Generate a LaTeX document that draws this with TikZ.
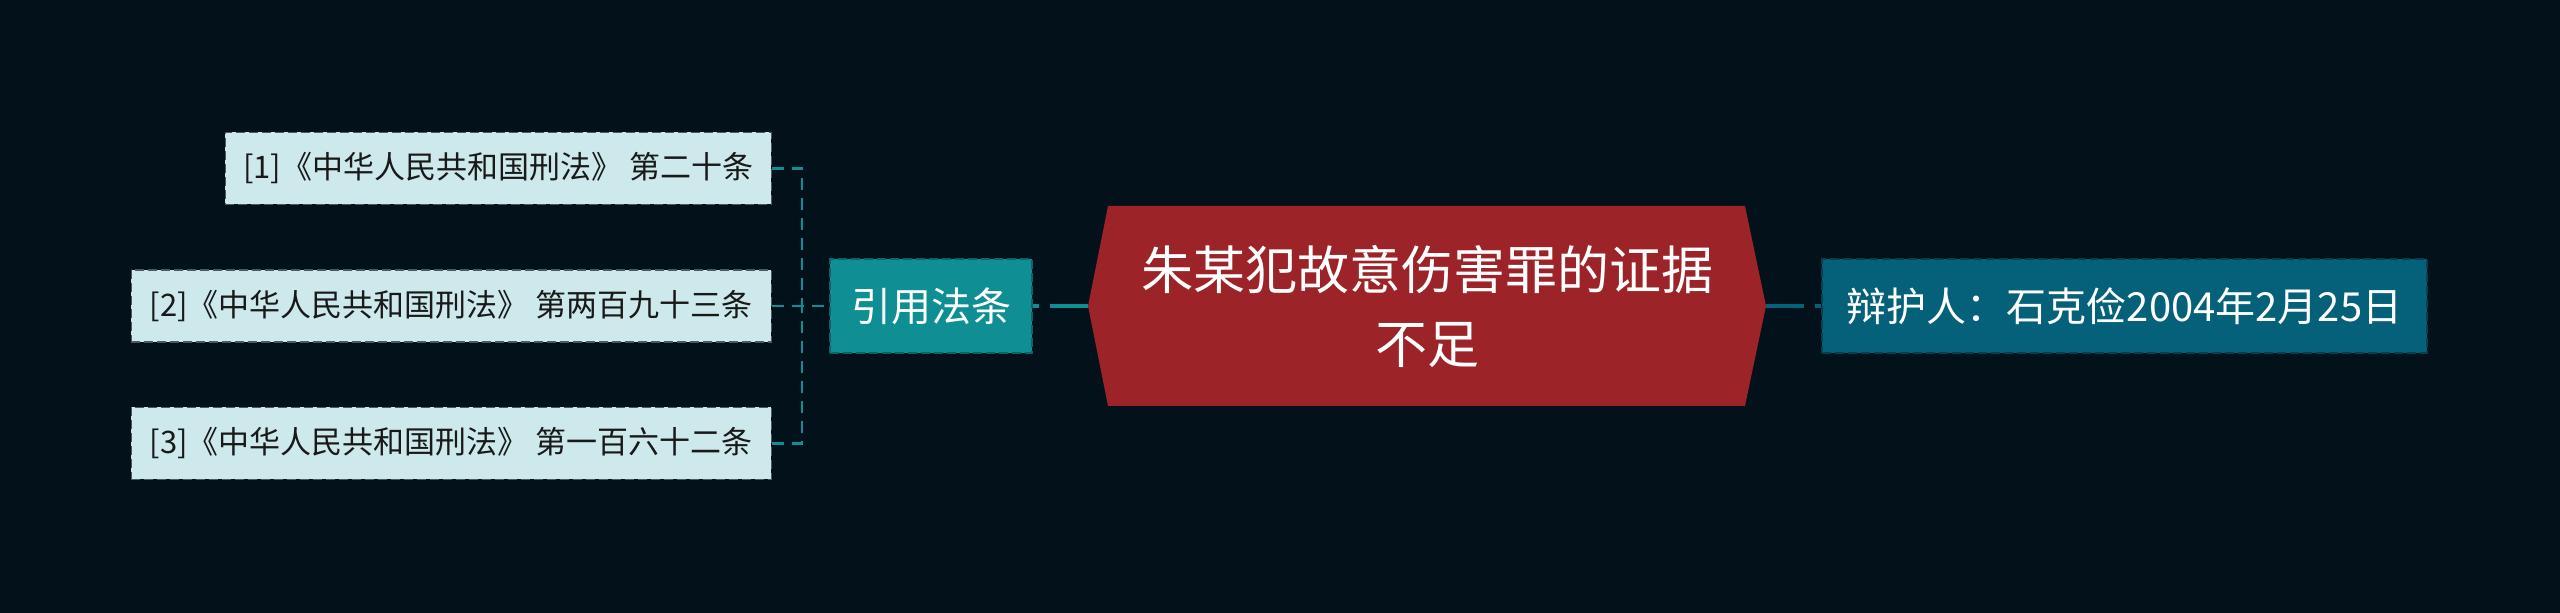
\documentclass[tikz,border=0pt]{standalone}
\usepackage{fontspec}
\setmainfont{Noto Sans CJK SC}

\definecolor{bgnavy}{HTML}{03111A}
\definecolor{leaffill}{HTML}{CDE9EB}
\definecolor{leafedge}{HTML}{4A5A5E}
\definecolor{tealfill}{HTML}{0F8F94}
\definecolor{tealedge}{HTML}{0A6468}
\definecolor{rootred}{HTML}{9C2328}
\definecolor{deepfill}{HTML}{05607A}
\definecolor{deepedge}{HTML}{06404F}

\tikzset{
  leaf/.style={fill=leaffill, draw=leafedge, line width=1.5pt, dash pattern=on 9pt off 4pt,
    text=black!90, font=\fontsize{31}{37}\selectfont, inner xsep=0pt,
    minimum height=72pt, anchor=east},
  branch/.style={draw=#1edge, fill=#1fill, line width=1.5pt, dash pattern=on 9pt off 4pt,
    text=white, font=\fontsize{40}{48}\selectfont, inner xsep=0pt, minimum height=94pt},
  twig/.style={draw=tealfill, line width=2.5pt, dash pattern=on 12pt off 8pt},
  trunk/.style={draw=#1, line width=4pt, dash pattern=on 38pt off 11pt}
}

\begin{document}
\begin{tikzpicture}[x=1pt,y=1pt]
    \fill[bgnavy] (0,0) rectangle (2560,613);
    \useasboundingbox (0,0) rectangle (2560,613);

    % root
    \fill[rootred] (1108,407) -- (1745,407) -- (1766,307) -- (1745,207)
      -- (1108,207) -- (1088,307) -- cycle;
    \coordinate (tipL) at (1088,307);
    \coordinate (tipR) at (1766,307);
    \node[text=white, align=center, font=\fontsize{52}{74}\selectfont] (root) at (1427,306)
      {朱某犯故意伤害罪的证据\\不足};

    \node[branch=teal, minimum width=202pt] (cite) at (931,307) {引用法条};
    \node[branch=deep, minimum width=605pt] (lawyer) at (2124.5,307) {辩护人：石克俭2004年2月25日};

    \node[leaf, minimum width=546pt] (law1) at (772,444.5) {[1]《中华人民共和国刑法》 第二十条};
    \node[leaf, minimum width=640pt] (law2) at (772,307) {[2]《中华人民共和国刑法》 第两百九十三条};
    \node[leaf, minimum width=640pt] (law3) at (772,169.5) {[3]《中华人民共和国刑法》 第一百六十二条};

    \coordinate (fork) at (802,307);
    \draw[twig] (law1.east) -| (fork);
    \draw[twig] (law3.east) -| (fork);
    \draw[twig] (law2.east) -- (fork) -- (cite.west);

    \draw[trunk=tealfill] (tipL) -- (cite.east);
    \draw[trunk=deepfill] (tipR) -- (lawyer.west);
\end{tikzpicture}
\end{document}
